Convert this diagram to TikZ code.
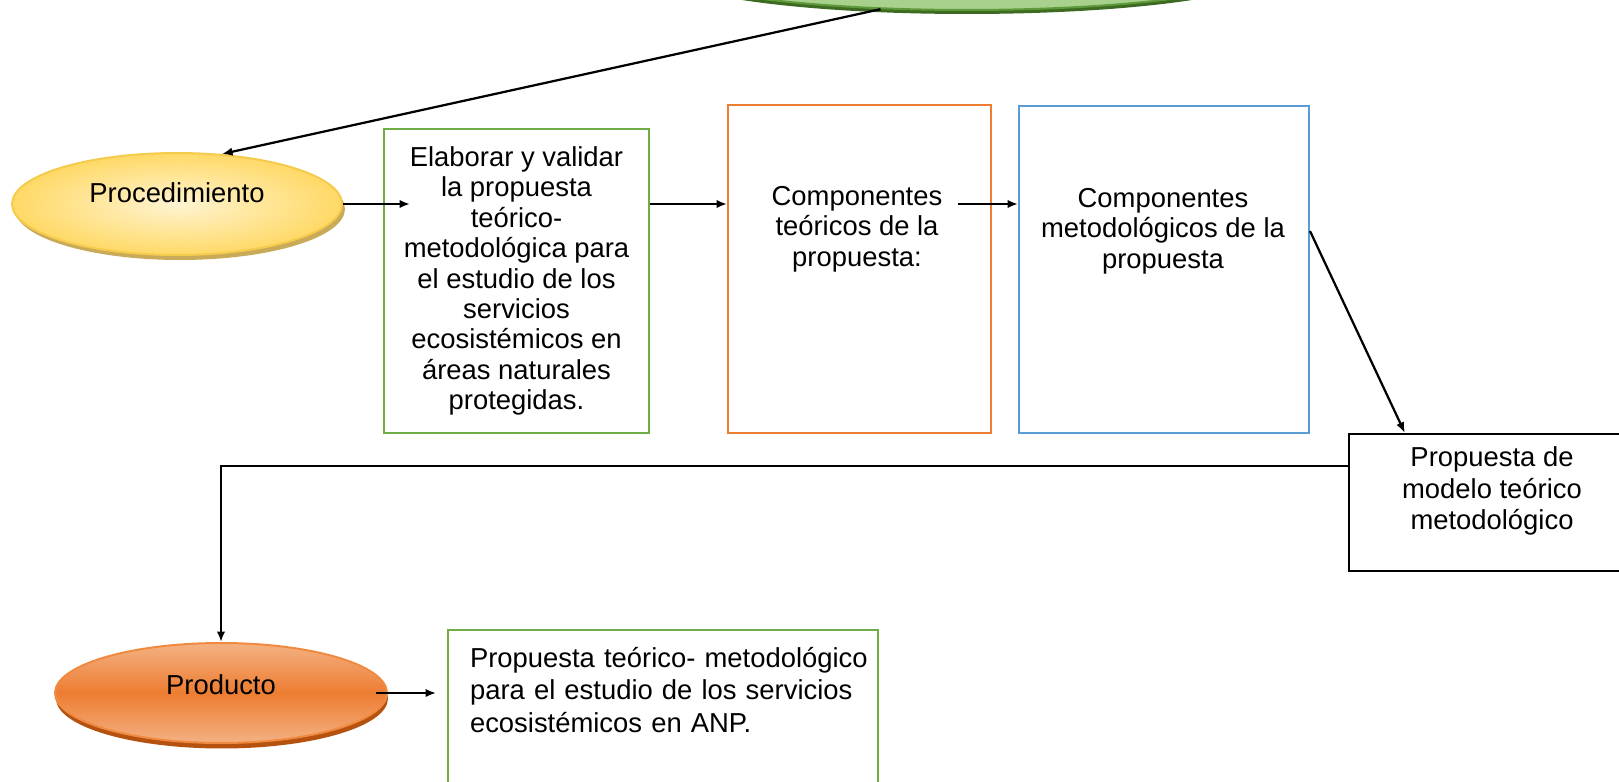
\documentclass[tikz,border=0pt]{standalone}
\usepackage{fontspec}
\setmainfont{Liberation Sans}
\usetikzlibrary{arrows.meta,shapes.geometric,calc,shadows}
\definecolor{boxgreen}{HTML}{70AD47}
\definecolor{boxorange}{HTML}{ED7D31}
\definecolor{boxblue}{HTML}{5B9BD5}
\definecolor{topfill}{HTML}{A9D18E}
\definecolor{topline}{HTML}{5E9A3A}
\definecolor{topshade}{HTML}{3E6B22}
\definecolor{procin}{HTML}{FFF4D2}
\definecolor{procout}{HTML}{FFD966}
\definecolor{procline}{HTML}{F5CB4E}
\definecolor{procshade}{HTML}{C9AA58}
\definecolor{prodlight}{HTML}{F4B183}
\definecolor{prodline}{HTML}{F08A40}
\definecolor{prodshade}{HTML}{B5520F}
\tikzset{
  box/.style={draw, rectangle, line width=0.04cm, inner sep=0},
  txt/.style={align=center, inner sep=0.15cm, font=\fontsize{15.6}{17.3}\selectfont},
  oval/.style={ellipse, inner sep=0, line width=0.04cm, font=\fontsize{15.6}{17.3}\selectfont},
  arr/.style={-{Latex[length=0.21cm,width=0.17cm]}, line width=0.045cm},
}
\begin{document}
\begin{tikzpicture}[x=0.02cm,y=-0.02cm]
    \useasboundingbox (0,0) rectangle (1619,781);
    \clip (0,0) rectangle (1619,781);

    \node[oval, minimum width=12.2cm, minimum height=1.72cm, fill=topfill, draw=topline,
          drop shadow={shadow xshift=0cm, shadow yshift=-0.08cm, fill=topshade, opacity=1}] (inicio) at (967,-33) {};
    \node[oval, minimum width=6.6cm, minimum height=2.04cm, draw=procline, inner color=procin, outer color=procout,
          text depth=0.44cm,
          drop shadow={shadow xshift=0.06cm, shadow yshift=-0.1cm, fill=procshade, opacity=1}] (proc) at (177,204) {Procedimiento};
    \node[box, draw=boxgreen, minimum width=5.3cm, minimum height=6.08cm, txt, inner sep=0] (elab) at (516.5,281)
        {Elaborar y validar\\la propuesta\\teórico-\\metodológica para\\el estudio de los\\servicios\\ecosistémicos en\\áreas naturales\\protegidas.};
    \node[box, draw=boxorange, minimum width=5.26cm, minimum height=6.56cm] (teor) at (859.5,269) {};
    \node[txt, inner sep=0.3cm] (teortxt) at (857,229) {Componentes\\teóricos de la\\propuesta:};
    \node[box, draw=boxblue, minimum width=5.8cm, minimum height=6.54cm] (metod) at (1164,269.5) {};
    \node[txt] (metodtxt) at (1163,231) {Componentes\\metodológicos de la\\propuesta};
    \node[box, line width=0.05cm, minimum width=5.82cm, minimum height=2.74cm] (modelo) at (1494.5,502.5) {};
    \node[txt, font=\fontsize{15.6}{17.8}\selectfont] (modelotxt) at (1492,491) {Propuesta de\\modelo teórico\\metodológico};
    \node[oval, minimum width=6.64cm, minimum height=2cm, draw=prodline, top color=prodlight, bottom color=prodlight,
          middle color=boxorange, text depth=0.32cm,
          drop shadow={shadow xshift=0.02cm, shadow yshift=-0.11cm, fill=prodshade, opacity=1}] (prod) at (221,693) {Producto};
    \node[box, draw=boxgreen, minimum width=8.6cm, minimum height=3.4cm] (final) at (663,715) {};
    \node[txt, align=left, inner sep=0, text width=7.84cm, font=\fontsize{15.6}{18.3}\selectfont] (finaltxt) at (666,690)
        {\makebox[7.84cm][s]{Propuesta teórico- metodológico}\\\makebox[7.84cm][s]{para el estudio de los servicios}\\ecosistémicos en ANP.};

    \coordinate (a1) at (410,204);
    \draw[arr] (inicio.206) -- (proc.48);
    \draw[arr] (proc.east) -- (a1);
    \draw[arr] (elab.east |- a1) -- (teor.west |- a1);
    \draw[arr] (teortxt.east |- a1) -- (metod.west |- a1);
    \draw[arr] (metodtxt -| metod.east) -- ($(modelo.north west)+(57,0)$);
    \draw[arr] ($(modelo.north west)+(0,33)$) -| (prod.north);
    \draw[arr] ([xshift=-0.24cm]prod.east) -- ([xshift=-0.22cm]prod.east -| final.west);
\end{tikzpicture}
\end{document}
